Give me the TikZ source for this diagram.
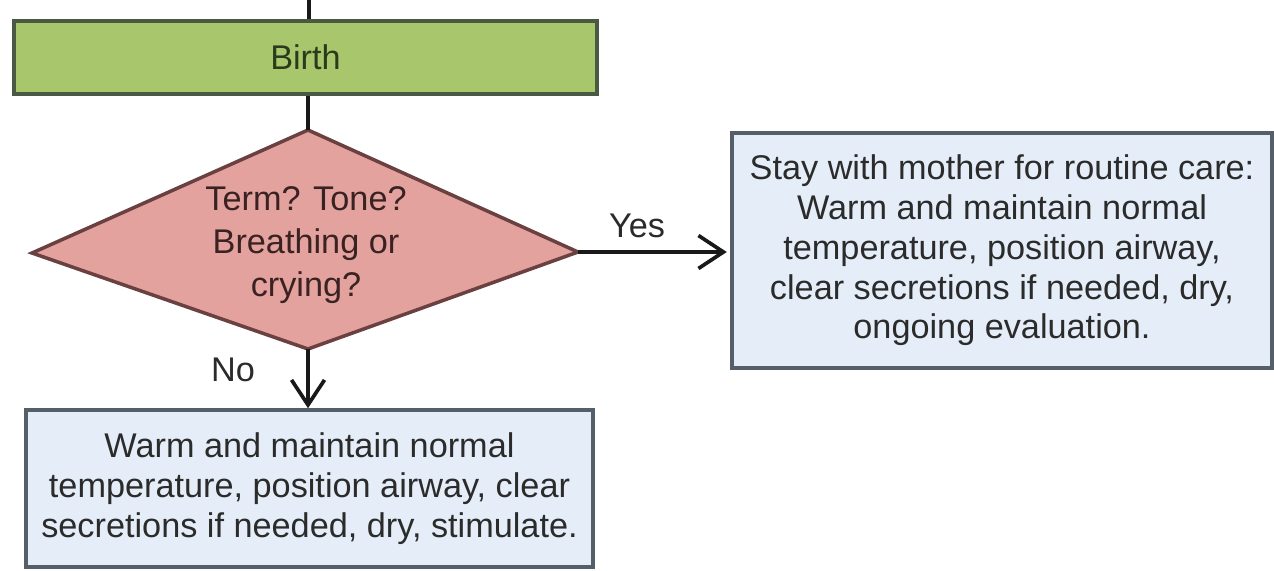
\documentclass[tikz,border=0pt]{standalone}
\usepackage{fontspec}
\setmainfont{Liberation Sans}
\usetikzlibrary{positioning, arrows.meta}
\definecolor{BirthGreen}{HTML}{A8C66C}
\definecolor{BirthEdge}{HTML}{4A5944}
\definecolor{BirthText}{HTML}{2C3A1C}
\definecolor{AskPink}{HTML}{E3A29E}
\definecolor{AskEdge}{HTML}{6A4040}
\definecolor{AskText}{HTML}{3A2222}
\definecolor{CareBlue}{HTML}{E5EEF8}
\definecolor{CareEdge}{HTML}{545F69}
\definecolor{CareText}{HTML}{2B2B2B}
\tikzstyle{step_box}=[rectangle,
        draw=CareEdge,
        fill=CareBlue,
        line width=2pt,
        inner sep=0pt,
        align=center,
        text=CareText,
        font=\fontsize{19.5}{22.6}\selectfont, ]
\tikzstyle{flow_line}=[line width=2.1pt, draw=black!90]
\tikzstyle{flow_arrow}=[flow_line, -{Straight Barb[length=0.5cm, width=0.66cm, line width=2.1pt]}]
\tikzstyle{branch_label}=[text=CareText, font=\fontsize{19.5}{22.6}\selectfont]

\begin{document}
\begin{tikzpicture}[x=0.02cm, y=-0.02cm]
    \useasboundingbox (0,0) rectangle (1274,571);

    \node at (305.5, 57.5) (birth) [step_box, draw=BirthEdge, fill=BirthGreen, text=BirthText,
        minimum width=11.66cm, minimum height=1.46cm] {Birth};

    \coordinate (dtop) at (308, 130);
    \coordinate (dleft) at (32, 253);
    \coordinate (dright) at (578, 252);
    \coordinate (dbot) at (308, 349);
    \draw[line width=2pt, draw=AskEdge, fill=AskPink] (dtop) -- (dright) -- (dbot) -- (dleft) -- cycle;
    \node at (306, 245) (ask) [align=center, text=AskText, font=\fontsize{19.5}{24.4}\selectfont]
        {Term? Tone?\\Breathing or\\crying?};

    \node at (1002, 250.5) (care) [step_box, minimum width=10.8cm, minimum height=4.7cm]
        {Stay with mother for routine care:\\Warm and maintain normal\\temperature, position airway,\\clear secretions if needed, dry,\\ongoing evaluation.};
    \node at (309.5, 488.5) (warm) [step_box, minimum width=11.34cm, minimum height=3.14cm]
        {Warm and maintain normal\\temperature, position airway, clear\\secretions if needed, dry, stimulate.};

    \node at (637, 226) (yes_label) [branch_label] {Yes};
    \node at (233, 370) (no_label) [branch_label] {No};

    \coordinate (top_end) at (309, 0);
    \draw[flow_line] (top_end) -- (top_end |- birth.north);
    \draw[flow_line] (birth.south -| dtop) -- (dtop);
    \draw[flow_arrow] (dright) -- ([xshift=-2pt]care.west |- dright);
    \draw[flow_arrow] (dbot) -- (dbot |- warm.north);

\end{tikzpicture}
\end{document}
